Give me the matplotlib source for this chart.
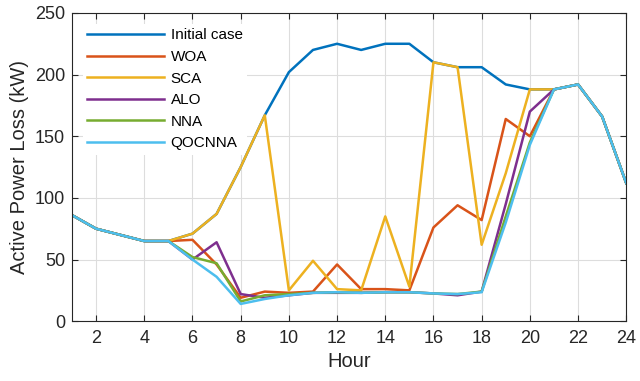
import numpy as np
import matplotlib.pyplot as plt

plt.rcParams['font.family'] = ['Liberation Sans', 'DejaVu Sans']

hours = np.arange(1, 25)

initial = [86, 75, 70, 65, 65, 71, 87, 125, 167, 202, 220, 225, 220, 225, 225, 210,
           206, 206, 192, 188, 188, 192, 166, 112]
woa = [86, 75, 70, 65, 65, 66, 46, 19, 24, 23, 24, 46, 26, 26, 25, 76,
       94, 82, 164, 150, 188, 192, 166, 112]
sca = [86, 75, 70, 65, 65, 71, 87, 125, 167, 25, 49, 26, 25, 85, 28, 210,
       206, 62, 120, 188, 188, 192, 166, 112]
alo = [86, 75, 70, 65, 65, 50, 64, 22, 19, 21, 23, 23, 23, 23.5, 23.5, 22.5,
       21, 24, 95, 170, 188, 192, 166, 112]
nna = [86, 75, 70, 65, 65, 52, 47, 16, 21, 22, 23, 23.5, 23, 23.5, 23.5, 22.5,
       22, 24, 85, 145, 188, 192, 166, 112]
qocnna = [86, 75, 70, 65, 65, 50, 36, 14, 18, 21, 23, 23.5, 23, 23.5, 23.5, 22.5,
          22, 23.5, 80, 143, 188, 192, 166, 112]

series = [('Initial case', initial, '#0072BD'),
          ('WOA', woa, '#D95319'),
          ('SCA', sca, '#EDB120'),
          ('ALO', alo, '#7E2F8E'),
          ('NNA', nna, '#77AC30'),
          ('QOCNNA', qocnna, '#4DBEEE')]

fig = plt.figure(figsize=(6.4, 3.81), dpi=100)
ax = fig.add_axes([0.1125, 0.157, 0.866, 0.809])

for name, vals, c in series:
    ax.plot(hours, vals, color=c, lw=1.8, label=name, zorder=2)

ax.set_xlim(1, 24)
ax.set_ylim(0, 250)
ax.set_xticks(np.arange(2, 25, 2))
ax.set_yticks(np.arange(0, 251, 50))
ax.grid(True, color='#dddddd', lw=0.8)
ax.set_axisbelow(True)
ax.tick_params(direction='in', top=True, right=True, labelsize=13, length=4,
               color='#262626', labelcolor='#262626')
ax.tick_params(axis='x', pad=6)
ax.tick_params(axis='y', pad=5)
for s in ax.spines.values():
    s.set_color('#262626')
    s.set_linewidth(0.8)

ax.set_xlabel('Hour', fontsize=14.5, color='#262626', labelpad=4)
ax.set_ylabel('Active Power Loss (kW)', fontsize=14.5, color='#262626', labelpad=4)

# white box hides the grid but stays under the curves
leg = ax.legend(loc='upper left', fontsize=11, frameon=True, fancybox=False,
                handlelength=5.0, handletextpad=0.45, borderaxespad=0.7,
                borderpad=0.3, labelspacing=0.5)
leg.get_frame().set_edgecolor('none')
leg.get_frame().set_facecolor('white')
leg.get_frame().set_alpha(1)
leg.set_zorder(1)

fig.savefig('out.png', dpi=100)
